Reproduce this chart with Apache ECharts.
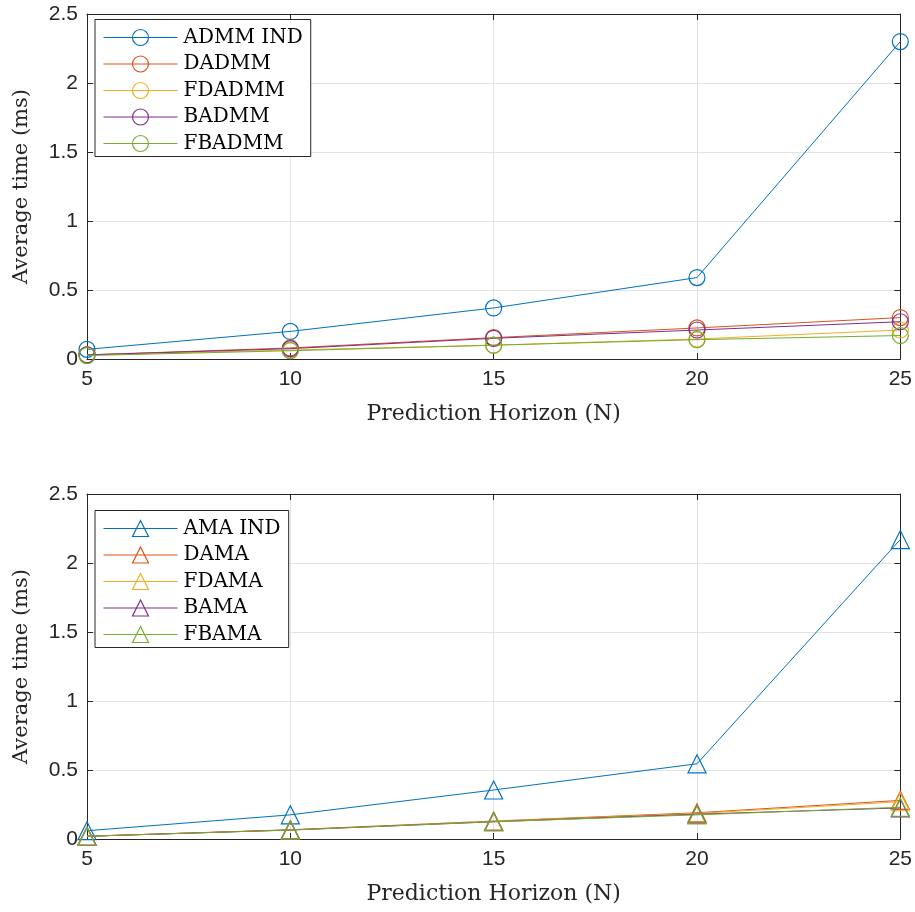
<!DOCTYPE html>
<html>
<head>
<meta charset="utf-8">
<script src="https://cdn.jsdelivr.net/npm/echarts@6/dist/echarts.min.js"></script>
<style>
  html, body { margin: 0; padding: 0; background: #fff; }
  #chart { width: 915px; height: 912px; }
</style>
</head>
<body>
<div id="chart"></div>
<script>
// Prediction horizons
const horizons = [5, 10, 15, 20, 25];

// Top panel: ADMM variants (ms)
const admmNames = ['ADMM IND', 'DADMM', 'FDADMM', 'BADMM', 'FBADMM'];
const admmInd = [0.07, 0.20, 0.37, 0.59, 2.30];
const dadmm   = [0.03, 0.08, 0.155, 0.225, 0.30];
const fdadmm  = [0.03, 0.065, 0.10, 0.145, 0.21];
const badmm   = [0.03, 0.075, 0.15, 0.21, 0.27];
const fbadmm  = [0.025, 0.06, 0.10, 0.14, 0.17];

// Bottom panel: AMA variants (ms)
const amaNames = ['AMA IND', 'DAMA', 'FDAMA', 'BAMA', 'FBAMA'];
const amaInd = [0.06, 0.175, 0.355, 0.545, 2.17];
const dama   = [0.02, 0.067, 0.13, 0.19, 0.28];
const fdama  = [0.02, 0.066, 0.128, 0.185, 0.27];
const bama   = [0.02, 0.065, 0.125, 0.18, 0.225];
const fbama  = [0.02, 0.065, 0.125, 0.175, 0.23];

const colors = ['#0072BD', '#D95319', '#EDB120', '#7E2F8E', '#77AC30'];
const serif = '"DejaVu Serif", "Liberation Serif", serif';
const sans = '"Liberation Sans", Arial, sans-serif';
const axisColor = '#262626';

function pairs(ys) { return horizons.map((x, i) => [x, ys[i]]); }

function makeSeries(names, sets, symbol, size, gridIdx) {
  return names.map((n, i) => ({
    name: n,
    type: 'line',
    xAxisIndex: gridIdx,
    yAxisIndex: gridIdx,
    data: pairs(sets[i]),
    symbol: symbol,
    symbolSize: size,
    showAllSymbol: true,
    color: colors[i],
    lineStyle: { color: colors[i], width: 1 },
    itemStyle: { color: 'rgba(0,0,0,0)', borderColor: colors[i], borderWidth: 1.2 },
    emphasis: { disabled: true },
    animation: false,
    z: 3 + i
  }));
}

const tick = { show: true, inside: true, length: 6, lineStyle: { color: axisColor } };

function xAxis(gridIdx) {
  return {
    type: 'value', gridIndex: gridIdx, min: 5, max: 25, interval: 5,
    name: 'Prediction Horizon (N)', nameLocation: 'middle', nameGap: 44,
    nameTextStyle: { fontFamily: serif, fontSize: 22, color: axisColor },
    axisLine: { show: true, onZero: false, lineStyle: { color: axisColor, width: 1 } },
    axisTick: tick,
    axisLabel: { fontFamily: sans, fontSize: 21, color: axisColor, margin: 10 },
    splitLine: { show: true, lineStyle: { color: '#e3e3e3', width: 1 } }
  };
}

// Mirror axes on the top/right edges carry only tick marks (boxed look)
function xAxisTop(gridIdx) {
  return {
    type: 'value', gridIndex: gridIdx, position: 'top', min: 5, max: 25, interval: 5,
    axisLine: { show: true, onZero: false, lineStyle: { color: axisColor, width: 1 } },
    axisTick: tick, axisLabel: { show: false }, splitLine: { show: false }
  };
}

function yAxis(gridIdx) {
  return {
    type: 'value', gridIndex: gridIdx, min: 0, max: 2.5, interval: 0.5,
    name: 'Average time (ms)', nameLocation: 'middle', nameGap: 55,
    nameTextStyle: { fontFamily: serif, fontSize: 21, color: axisColor },
    axisLine: { show: true, lineStyle: { color: axisColor, width: 1 } },
    axisTick: tick,
    axisLabel: { fontFamily: sans, fontSize: 21, color: axisColor, margin: 9,
      formatter: v => String(v) },
    splitLine: { show: true, lineStyle: { color: '#e3e3e3', width: 1 } }
  };
}

function yAxisRight(gridIdx) {
  return {
    type: 'value', gridIndex: gridIdx, position: 'right', min: 0, max: 2.5, interval: 0.5,
    axisLine: { show: true, lineStyle: { color: axisColor, width: 1 } },
    axisTick: tick, axisLabel: { show: false }, splitLine: { show: false }
  };
}

function legend(names, top) {
  return {
    data: names,
    orient: 'vertical',
    left: 95, top: top,
    itemWidth: 74, itemHeight: 20, itemGap: 6.5,
    padding: [8, 8, 3, 8],
    backgroundColor: '#fff',
    borderColor: axisColor, borderWidth: 1,
    lineStyle: { width: 1 },
    itemStyle: { borderWidth: 1.2 },
    textStyle: { fontFamily: serif, fontSize: 20, lineHeight: 20, color: '#000', padding: [0, 0, 0, 1] },
    selectedMode: false
  };
}

const chart = echarts.init(document.getElementById('chart'));
chart.setOption({
  animation: false,
  backgroundColor: '#fff',
  grid: [
    { left: 87, right: 8, top: 14, height: 345 },
    { left: 87, right: 8, top: 494, height: 345 }
  ],
  xAxis: [xAxis(0), xAxis(1), xAxisTop(0), xAxisTop(1)],
  yAxis: [yAxis(0), yAxis(1), yAxisRight(0), yAxisRight(1)],
  legend: [legend(admmNames, 19.5), legend(amaNames, 510.5)],
  series: [
    ...makeSeries(admmNames, [admmInd, dadmm, fdadmm, badmm, fbadmm], 'circle', 16, 0),
    ...makeSeries(amaNames, [amaInd, dama, fdama, bama, fbama], 'triangle', 18, 1)
  ]
});
</script>
</body>
</html>
